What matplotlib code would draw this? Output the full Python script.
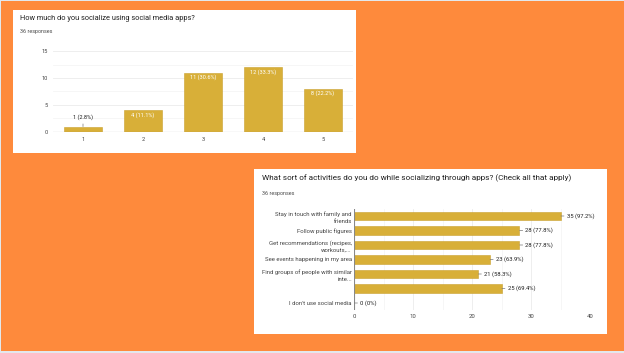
import matplotlib
matplotlib.use("Agg")
import matplotlib.pyplot as plt
from matplotlib.patches import Rectangle

plt.rcParams['font.family'] = ['Roboto', 'DejaVu Sans']

# ---- data ----
title1 = "How much do you socialize using social media apps?"
resp1 = "36 responses"
cats1 = ['1', '2', '3', '4', '5']
vals1 = [1, 4, 11, 12, 8]
pcts1 = ['2.8%', '11.1%', '30.6%', '33.3%', '22.2%']
yticks1 = [0, 5, 10, 15]

title2 = "What sort of activities do you do while socializing through apps? (Check all that apply)"
resp2 = "36 responses"
cats2 = ['Stay in touch with family and\nfriends',
         'Follow public figures',
         'Get recommendations (recipes,\nworkouts,...',
         'See events happening in my area',
         'Find groups of people with similar\ninte...',
         '',
         "I don't use social media"]
vals2 = [35, 28, 28, 23, 21, 25, 0]
pcts2 = ['97.2%', '77.8%', '77.8%', '63.9%', '58.3%', '69.4%', '0%']
xticks2 = [0, 10, 20, 30, 40]

W, H = 624, 353
ORANGE = '#FE8A3C'
BAR = '#D8AF38'
BAREDGE = '#C9A12E'
GRID = '#ebebeb'
GRIDMINOR = '#f5f5f5'
TXT = '#1f1f1f'
SUB = '#4a4a4a'
TICK = '#444444'

fig = plt.figure(figsize=(W / 100, H / 100), dpi=100)
fig.patch.set_facecolor('#e3e8ed')


def fx(x):
    return x / W


def fy(y):
    return 1 - y / H


def rect(x0, y0, x1, y1, color, z=0):
    fig.patches.append(Rectangle((fx(x0), fy(y1)), fx(x1) - fx(x0), fy(y0) - fy(y1),
                                 transform=fig.transFigure, facecolor=color,
                                 edgecolor='none', zorder=z))


def axes_px(x0, y0, x1, y1):
    return fig.add_axes([fx(x0), fy(y1), fx(x1) - fx(x0), fy(y0) - fy(y1)])


rect(1, 1, 624, 351, ORANGE)
rect(13, 10, 356, 153, 'white', 1)
rect(254, 169, 607, 334, 'white', 1)

# ---- panel 1 ----
fig.text(fx(20), fy(19), title1, fontsize=5.3, color=TXT, va='center', ha='left', zorder=3)
fig.text(fx(20), fy(32), resp1, fontsize=3.9, color=SUB, va='center', ha='left', zorder=3)

ax1 = axes_px(53, 51, 353, 132)
ax1.set_facecolor('none')
ax1.set_zorder(2)
x1 = list(range(len(cats1)))
ax1.bar(x1, vals1, width=0.62, color=BAR, edgecolor=BAREDGE, linewidth=0.4, zorder=3)
ax1.set_xlim(-0.5, len(cats1) - 0.5)
ax1.set_ylim(0, 15)
for g in [2.5, 7.5, 12.5]:
    ax1.axhline(g, color=GRIDMINOR, lw=0.6, zorder=1)
for g in [5, 10, 15]:
    ax1.axhline(g, color=GRID, lw=0.6, zorder=1)
ax1.axhline(0, color='#888888', lw=0.8, zorder=4)
for s in ax1.spines.values():
    s.set_visible(False)
ax1.set_yticks(yticks1)
ax1.set_xticks(x1)
ax1.set_xticklabels(cats1)
ax1.tick_params(axis='both', length=0, labelsize=4.1, labelcolor=TICK, pad=3.5)
for i, (v, p) in enumerate(zip(vals1, pcts1)):
    lab = f"{v} ({p})"
    if v < 3:
        ax1.annotate(lab, xy=(i, v), xytext=(i, v + 1.8), ha='center', va='center',
                     fontsize=4.1, color=TXT, zorder=5,
                     arrowprops=dict(arrowstyle='-', color='#777777', lw=0.5,
                                     shrinkA=1, shrinkB=0))
    else:
        ax1.text(i, v - 0.3, lab, ha='center', va='top', fontsize=4.1,
                 color='white', zorder=5)

# ---- panel 2 ----
fig.text(fx(262), fy(178), title2, fontsize=5.9, color=TXT, va='center', ha='left', zorder=3)
fig.text(fx(262), fy(193), resp2, fontsize=3.9, color=SUB, va='center', ha='left', zorder=3)

ax2 = axes_px(354, 208.75, 590, 310.25)
ax2.set_facecolor('none')
ax2.set_zorder(2)
y2 = list(range(len(cats2)))
ax2.barh(y2, vals2, height=0.6, color=BAR, edgecolor=BAREDGE, linewidth=0.4, zorder=3)
ax2.set_ylim(len(cats2) - 0.5, -0.5)
ax2.set_xlim(0, 40)
for g in [5, 15, 25, 35]:
    ax2.axvline(g, color=GRIDMINOR, lw=0.6, zorder=1)
for g in [10, 20, 30, 40]:
    ax2.axvline(g, color=GRID, lw=0.6, zorder=1)
ax2.axvline(0, color='#888888', lw=0.8, zorder=4)
for s in ax2.spines.values():
    s.set_visible(False)
ax2.set_xticks(xticks2)
ax2.set_yticks(y2)
ax2.set_yticklabels(cats2, linespacing=1.45)
ax2.tick_params(axis='both', length=0, labelsize=4.3, labelcolor=TICK)
ax2.tick_params(axis='y', pad=1.5)
ax2.tick_params(axis='x', pad=3)
for i, (v, p) in enumerate(zip(vals2, pcts2)):
    ax2.annotate(f"{v} ({p})", xy=(v, i), xytext=(4.5, 0), textcoords='offset points',
                 ha='left', va='center', fontsize=4.2, color=TXT, zorder=5,
                 arrowprops=dict(arrowstyle='-', color='#777777', lw=0.5,
                                 shrinkA=0, shrinkB=0.3))

fig.savefig('out.png', dpi=100, facecolor=fig.get_facecolor())
